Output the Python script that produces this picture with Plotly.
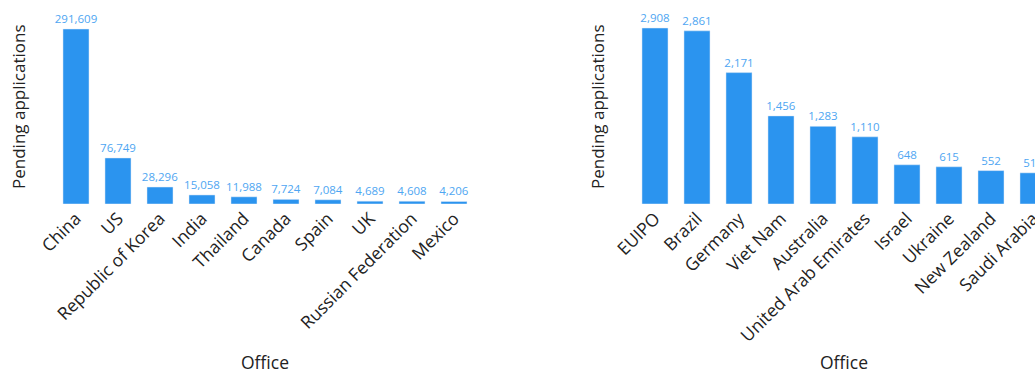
import plotly.graph_objects as go

left_offices = ["China", "US", "Republic of Korea", "India", "Thailand", "Canada",
                "Spain", "UK", "Russian Federation", "Mexico"]
left_values = [291609, 76749, 28296, 15058, 11988, 7724, 7084, 4689, 4608, 4206]

right_offices = ["EUIPO", "Brazil", "Germany", "Viet Nam", "Australia",
                 "United Arab Emirates", "Israel", "Ukraine", "New Zealand", "Saudi Arabia"]
right_values = [2908, 2861, 2171, 1456, 1283, 1110, 648, 615, 552, 515]

x_title = "Office"
y_title = "Pending applications"

BAR = "#2b94ef"
TXT = "#4ea6f2"
FONT = '"Open Sans", verdana, arial, sans-serif'

W, H = 1110, 370
ML, MR, MT, MB = 55, 56, 10, 166
PW = W - ML - MR

fig = go.Figure()
fig.add_trace(go.Bar(x=left_offices, y=left_values, marker_color=BAR,
                     texttemplate="%{y:,}", textposition="outside",
                     constraintext="none", cliponaxis=False,
                     textfont=dict(size=11.5, color=TXT),
                     xaxis="x", yaxis="y", showlegend=False))
fig.add_trace(go.Bar(x=right_offices, y=right_values, marker_color=BAR,
                     texttemplate="%{y:,}", textposition="outside",
                     constraintext="none", cliponaxis=False,
                     textfont=dict(size=11.5, color=TXT),
                     xaxis="x2", yaxis="y2", showlegend=False))

ax_common = dict(showgrid=False, zeroline=False, showline=False, ticks="",
                 tickangle=-45, tickfont=dict(size=17.5, color="#222"))
ay_common = dict(showgrid=False, zeroline=False, showline=False, ticks="",
                 showticklabels=False)

fig.update_layout(
    width=W, height=H,
    margin=dict(l=ML, r=MR, t=MT, b=MB, autoexpand=False),
    paper_bgcolor="white", plot_bgcolor="white",
    font=dict(family=FONT, color="#222"),
    bargap=0.38,
    xaxis=dict(domain=[0, 420 / PW], anchor="y", **ax_common),
    xaxis2=dict(domain=[579 / PW, 1], anchor="y2", **ax_common),
    yaxis=dict(domain=[0, 1], anchor="x", range=[0, max(left_values) * 194 / 175], **ay_common),
    yaxis2=dict(domain=[0, 1], anchor="x2", range=[0, max(right_values) * 194 / 176], **ay_common),
)

def px2paper_x(px):
    return (px - ML) / PW

def px2paper_y(py):
    return (H - MB - py) / (H - MT - MB)

for cx in (265, 844):
    fig.add_annotation(text=x_title, x=px2paper_x(cx), y=px2paper_y(362),
                       xref="paper", yref="paper", showarrow=False,
                       font=dict(size=17.5, color="#222"), xanchor="center", yanchor="middle")
for cx in (18, 597):
    fig.add_annotation(text=y_title, x=px2paper_x(cx), y=px2paper_y(107),
                       xref="paper", yref="paper", showarrow=False, textangle=-90,
                       font=dict(size=17, color="#222"), xanchor="center", yanchor="middle")

fig.write_html("out.html", config={"displayModeBar": False},
               post_script="document.body.style.overflow='hidden';document.body.style.margin='0';")
